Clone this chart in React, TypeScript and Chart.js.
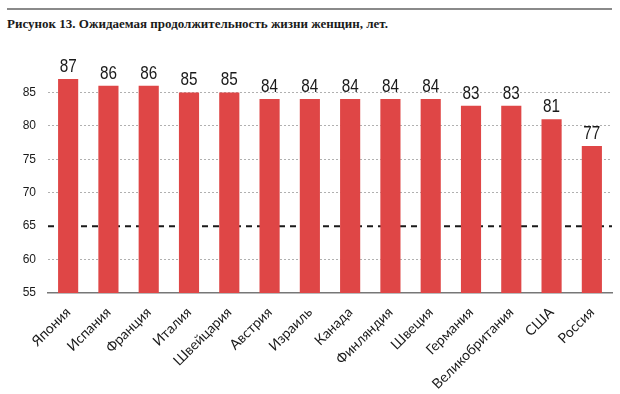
import React, { useEffect, useRef } from "react";
import { Chart, registerables } from "chart.js";

Chart.register(...registerables);

const title = "Рисунок 13. Ожидаемая продолжительность жизни женщин, лет.";
const countries = [
  "Япония", "Испания", "Франция", "Италия", "Швейцария", "Австрия", "Израиль",
  "Канада", "Финляндия", "Швеция", "Германия", "Великобритания", "США", "Россия",
];
const lifeExpectancy = [87, 86, 86, 85, 85, 84, 84, 84, 84, 84, 83, 83, 81, 77];
const yMin = 55;
const yMax = 90;
const yStep = 5;
const refLine = 65;

const ARIAL = "'Liberation Sans', Arial, sans-serif";

export default function App() {
  const ref = useRef<HTMLCanvasElement | null>(null);

  useEffect(() => {
    document.body.style.margin = "0";
    const canvas = ref.current!;
    const refLinePlugin = {
      id: "refLine",
      beforeDatasetsDraw(chart: any) {
        const { ctx, chartArea, scales } = chart;
        const y = scales.y.getPixelForValue(refLine);
        ctx.save();
        ctx.strokeStyle = "#1a1a1a";
        ctx.lineWidth = 2;
        ctx.setLineDash([6, 5]);
        ctx.beginPath();
        ctx.moveTo(chartArea.left, y);
        ctx.lineTo(chartArea.right, y);
        ctx.stroke();
        ctx.restore();
      },
    };
    const valueLabels = {
      id: "valueLabels",
      afterDatasetsDraw(chart: any) {
        const { ctx } = chart;
        const meta = chart.getDatasetMeta(0);
        ctx.save();
        ctx.fillStyle = "#1a1a1a";
        ctx.font = `18px ${ARIAL}`;
        ctx.textAlign = "center";
        ctx.textBaseline = "bottom";
        meta.data.forEach((bar: any, i: number) => {
          ctx.save();
          ctx.translate(bar.x, bar.y - 3);
          ctx.scale(0.85, 1);
          ctx.fillText(String(lifeExpectancy[i]), 0, 0);
          ctx.restore();
        });
        ctx.restore();
      },
    };
    const chart = new Chart(canvas, {
      type: "bar",
      data: {
        labels: countries,
        datasets: [
          {
            data: lifeExpectancy,
            backgroundColor: "#df4646",
            borderWidth: 0,
            barPercentage: 0.5,
            categoryPercentage: 1,
          },
        ],
      },
      options: {
        animation: false,
        responsive: false,
        maintainAspectRatio: false,
        layout: { padding: { top: 59, right: 8, left: 0, bottom: 0 } },
        plugins: { legend: { display: false }, tooltip: { enabled: false } },
        scales: {
          x: {
            grid: { display: false },
            border: { display: true, color: "#777", width: 1.5 },
            ticks: {
              color: "#1a1a1a",
              font: { family: "Lato, 'Open Sans', sans-serif", size: 14 },
              minRotation: 45,
              maxRotation: 45,
              autoSkip: false,
              padding: 3,
            },
            afterFit(scale: any) {
              scale.height = 101;
            },
          },
          y: {
            min: yMin,
            max: yMax,
            border: { display: false, dash: [2, 2] },
            grid: {
              drawTicks: false,
              color: (c: any) =>
                c.tick && (c.tick.value === refLine || c.tick.value === yMin || c.tick.value === yMax)
                  ? "rgba(0,0,0,0)"
                  : "#b0b0b0",
              lineWidth: 1,
            },
            ticks: {
              stepSize: yStep,
              color: "#1a1a1a",
              font: { family: ARIAL, size: 12 },
              padding: 12,
              callback: (v: any) => (v === yMax ? "" : String(v)),
            },
            afterFit(scale: any) {
              scale.width = 48;
            },
          },
        },
      },
      plugins: [refLinePlugin, valueLabels],
    });
    return () => chart.destroy();
  }, []);

  return (
    <div style={{ position: "absolute", left: 0, top: 0, width: 620, height: 394, background: "#fff" }}>
      <div
        style={{
          position: "absolute",
          left: 7,
          top: 8,
          width: 605,
          borderTop: "2px solid #8a8a8a",
        }}
      />
      <div
        style={{
          position: "absolute",
          left: 7,
          top: 16,
          fontFamily: "'Liberation Serif', 'DejaVu Serif', serif",
          fontWeight: "bold",
          fontSize: 13,
          color: "#1a1a1a",
          whiteSpace: "nowrap",
        }}
      >
        {title}
      </div>
      <canvas ref={ref} width={620} height={394} style={{ position: "absolute", left: 0, top: 0 }} />
    </div>
  );
}
